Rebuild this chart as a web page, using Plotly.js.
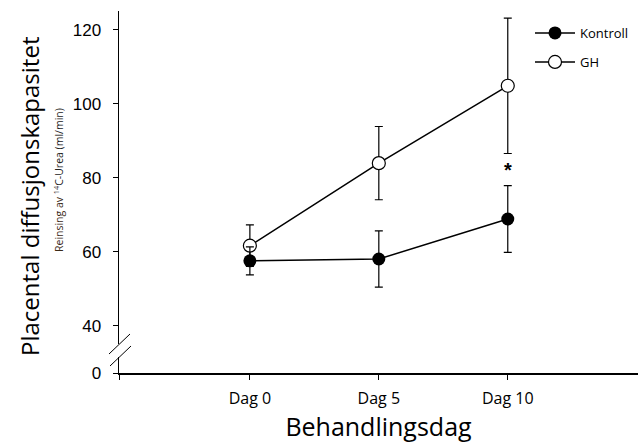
<!DOCTYPE html>
<html><head><meta charset="utf-8">
<script src="https://cdn.plot.ly/plotly-3.0.1.min.js"></script>
<style>html,body{margin:0;padding:0;background:#fff}#c{width:638px;height:443px}</style>
</head><body><div id="c"></div>
<script>
const days = [0, 1, 2];
const dayLabels = ['Dag 0', 'Dag 5', 'Dag 10'];
const kontroll = [57.6, 58.1, 68.9];
const kontrollErr = [3.8, 7.6, 9.0];
const gh = [61.7, 84.0, 104.9];
const ghErr = [5.6, 9.9, 18.3];
const yTickVals = [27.3, 40, 60, 80, 100, 120];
const yTickText = ['0', '40', '60', '80', '100', '120'];

const traces = [
  {x: days, y: gh, name: 'GH', type: 'scatter', mode: 'lines+markers', legend: 'legend2',
   line: {color: '#000', width: 1.5},
   marker: {size: 13, color: '#fff', line: {color: '#000', width: 1.2}},
   error_y: {type: 'data', array: ghErr, color: '#000', thickness: 1.2, width: 4}},
  {x: days, y: kontroll, name: 'Kontroll', type: 'scatter', mode: 'lines+markers', legend: 'legend',
   line: {color: '#000', width: 1.5},
   marker: {size: 13, color: '#000'},
   error_y: {type: 'data', array: kontrollErr, color: '#000', thickness: 1.2, width: 4}}
];

const L = 119, T = 11, B = 70, W = 638, H = 443;
const pw = W - L, ph = H - T - B;
function px(xp){return (xp - L) / pw;}
function py(yp){return 1 - (yp - T) / ph;}

const legFont = {family: 'Open Sans, sans-serif', size: 13, color: '#000'};
const layout = {
  width: W, height: H,
  margin: {l: L, r: 0, t: T, b: B},
  paper_bgcolor: '#fff', plot_bgcolor: '#fff',
  showlegend: true,
  legend: {x: px(530), y: py(33), xanchor: 'left', yanchor: 'middle', font: legFont,
           bgcolor: 'rgba(0,0,0,0)', itemwidth: 40},
  legend2: {x: px(530), y: py(62), xanchor: 'left', yanchor: 'middle', font: legFont,
            bgcolor: 'rgba(0,0,0,0)', itemwidth: 40},
  xaxis: {range: [-1.015, 3.01], tickvals: [-1.015, 0, 1, 2], ticktext: [''].concat(dayLabels),
          showline: true, linecolor: '#000', linewidth: 2, ticks: 'outside', ticklen: 5,
          tickcolor: '#000', tickwidth: 1, showgrid: false, zeroline: false,
          ticklabelstandoff: 5,
          tickfont: {family: 'Open Sans, sans-serif', size: 16, color: '#000'},
          title: {text: 'Behandlingsdag', standoff: 13,
                  font: {family: 'Open Sans, sans-serif', size: 25, color: '#000'}}},
  yaxis: {range: [27.3, 125.1], tickvals: yTickVals, ticktext: yTickText,
          showline: true, linecolor: '#000', linewidth: 1.5, ticks: 'outside', ticklen: 5,
          tickcolor: '#000', tickwidth: 1, showgrid: false, zeroline: false,
          ticklabelstandoff: 8,
          tickfont: {family: 'Liberation Sans, Arial, sans-serif', size: 17, color: '#000'}},
  annotations: [
    {x: 2, y: 82.2, xref: 'x', yref: 'y', text: '<b>*</b>', showarrow: false,
     font: {family: 'Liberation Sans, Arial, sans-serif', size: 20, color: '#000'}},
    {x: px(29), y: py(197), xref: 'paper', yref: 'paper', xanchor: 'center', yanchor: 'middle',
     text: 'Placental diffusjonskapasitet', showarrow: false, textangle: -90,
     font: {family: 'Open Sans, sans-serif', size: 24, color: '#000'}},
    {x: px(58), y: py(180), xref: 'paper', yref: 'paper', xanchor: 'center', yanchor: 'middle',
     text: '<span style="color:#3b2a17">Reinsing av</span> <sup>14</sup>C-Urea (ml/min)', showarrow: false, textangle: -90,
     font: {family: 'Open Sans, sans-serif', size: 10.5, color: '#222'}}
  ],
  shapes: [
    {type: 'line', xref: 'paper', yref: 'paper', x0: px(119), y0: py(344), x1: px(119), y1: py(357), line: {color: '#fff', width: 4}},
    {type: 'line', xref: 'paper', yref: 'paper', x0: px(109), y0: py(354), x1: px(130), y1: py(334), line: {color: '#000', width: 1}},
    {type: 'line', xref: 'paper', yref: 'paper', x0: px(110), y0: py(366), x1: px(131), y1: py(346), line: {color: '#000', width: 1}}
  ]
};
Plotly.newPlot('c', traces, layout, {displayModeBar: false, staticPlot: true});
</script></body></html>
